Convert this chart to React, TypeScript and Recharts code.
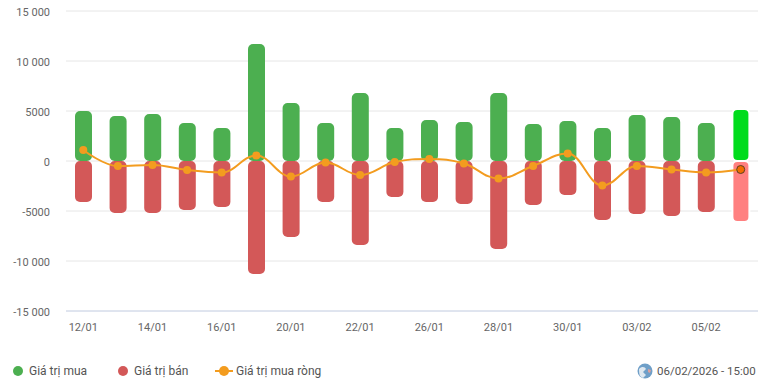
import React from 'react';
import { ComposedChart, Bar, Line, Cell, XAxis, YAxis, CartesianGrid } from 'recharts';

const dates = ['12/01', '13/01', '14/01', '15/01', '16/01', '19/01', '20/01', '21/01', '22/01', '23/01', '26/01', '27/01', '28/01', '29/01', '30/01', '02/02', '03/02', '04/02', '05/02', '06/02'];
const buyValues = [5000, 4500, 4700, 3800, 3300, 11700, 5800, 3800, 6800, 3300, 4100, 3900, 6800, 3700, 4000, 3300, 4600, 4400, 3800, 5200];
const sellValues = [-4100, -5200, -5200, -4900, -4600, -11300, -7600, -4100, -8400, -3600, -4100, -4300, -8800, -4400, -3400, -5900, -5300, -5500, -5100, -6100];
const netValues = [1100, -500, -400, -900, -1150, 550, -1550, -150, -1400, -100, 200, -250, -1750, -500, 750, -2450, -500, -850, -1150, -850];
const yTicks = [-15000, -10000, -5000, 0, 5000, 10000, 15000];

const data = dates.map((date, i) => ({ date, buy: buyValues[i], sell: sellValues[i], net: netValues[i] }));
const lastIndex = dates.length - 1;

const GREEN = '#4caf50';
const RED = '#d35858';
const ORANGE = '#f39c1f';

const formatY = (value: number) => {
  const abs = Math.abs(value);
  if (abs < 10000) return String(value);
  return `${value < 0 ? '-' : ''}${Math.floor(abs / 1000)} ${String(abs % 1000).padStart(3, '0')}`;
};

// same smoothing as a Highcharts spline, plugged in as a d3-style curve
const splineCurve = (context: any) => {
  let pts: [number, number][] = [];
  return {
    areaStart() {},
    areaEnd() {},
    lineStart() {
      pts = [];
    },
    point(x: number, y: number) {
      pts.push([+x, +y]);
    },
    lineEnd() {
      const smoothing = 1.5;
      const denom = smoothing + 1;
      const conts = pts.map(([x, y], i) => {
        if (i === 0 || i === pts.length - 1) return { lx: x, ly: y, rx: x, ry: y };
        const [px, py] = pts[i - 1];
        const [nx, ny] = pts[i + 1];
        const lx = (smoothing * x + px) / denom;
        let ly = (smoothing * y + py) / denom;
        const rx = (smoothing * x + nx) / denom;
        let ry = (smoothing * y + ny) / denom;
        const correction = ((ry - ly) * (rx - x)) / (rx - lx) + y - ry;
        ly += correction;
        ry += correction;
        if (ly > py && ly > y) {
          ly = Math.max(py, y);
          ry = 2 * y - ly;
        } else if (ly < py && ly < y) {
          ly = Math.min(py, y);
          ry = 2 * y - ly;
        }
        if (ry > ny && ry > y) {
          ry = Math.max(ny, y);
          ly = 2 * y - ry;
        } else if (ry < ny && ry < y) {
          ry = Math.min(ny, y);
          ly = 2 * y - ry;
        }
        return { lx, ly, rx, ry };
      });
      pts.forEach(([x, y], i) => {
        if (i === 0) context.moveTo(x, y);
        else context.bezierCurveTo(conts[i - 1].rx, conts[i - 1].ry, conts[i].lx, conts[i].ly, x, y);
      });
    },
  };
};

const NetDot = (props: any) => {
  const { cx, cy, index } = props;
  if (index === lastIndex) {
    return <circle key={index} cx={cx} cy={cy} r={4} fill="#f26c00" stroke="#5a4020" strokeWidth={1} />;
  }
  return <circle key={index} cx={cx} cy={cy} r={4} fill={ORANGE} />;
};

const legendText: React.CSSProperties = { position: 'absolute', top: 363, fontSize: 12, lineHeight: '16px', color: '#555', whiteSpace: 'nowrap' };
const legendDot = (left: number, color: string): React.CSSProperties => ({
  position: 'absolute', left, top: 366, width: 10, height: 10, borderRadius: '50%', backgroundColor: color,
});

export default function App() {
  return (
    <div style={{ position: 'absolute', left: 0, top: 0, width: 764, height: 382, overflow: 'hidden', background: '#fff', fontFamily: 'Roboto, sans-serif' }}>
      <ComposedChart
        width={764}
        height={345}
        data={data}
        stackOffset="sign"
        barCategoryGap={0}
        margin={{ top: 11, right: 6, bottom: 0, left: 0 }}
      >
        <CartesianGrid horizontal vertical={false} stroke="#e6e6e6" />
        <XAxis
          dataKey="date"
          interval={1}
          height={34}
          tickLine={false}
          axisLine={{ stroke: '#ccd6eb' }}
          tickMargin={6}
          tick={{ fontSize: 11, fill: '#666' }}
        />
        <YAxis
          width={66}
          domain={[-15000, 15000]}
          ticks={yTicks}
          tickFormatter={formatY}
          axisLine={false}
          tickLine={false}
          tickMargin={10}
          tick={{ fontSize: 11, fill: '#666', dy: 1 }}
        />
        <Bar dataKey="buy" stackId="value" fill={GREEN} barSize={17} radius={5} isAnimationActive={false}>
          {dates.map((d, i) => (
            <Cell
              key={d}
              fill={i === lastIndex ? '#00dc1c' : GREEN}
              stroke={i === lastIndex ? '#fff' : 'none'}
              strokeWidth={i === lastIndex ? 2 : 0}
            />
          ))}
        </Bar>
        <Bar dataKey="sell" stackId="value" fill={RED} barSize={17} radius={5} isAnimationActive={false}>
          {dates.map((d, i) => (
            <Cell
              key={d}
              fill={i === lastIndex ? '#ff8080' : RED}
              stroke={i === lastIndex ? '#fff' : 'none'}
              strokeWidth={i === lastIndex ? 2 : 0}
            />
          ))}
        </Bar>
        <Line
          type={splineCurve as any}
          dataKey="net"
          stroke={ORANGE}
          strokeWidth={2}
          dot={<NetDot />}
          activeDot={false}
          isAnimationActive={false}
        />
      </ComposedChart>

      <span style={legendDot(13, GREEN)} />
      <span style={{ ...legendText, left: 29 }}>Giá trị mua</span>
      <span style={legendDot(118, RED)} />
      <span style={{ ...legendText, left: 134 }}>Giá trị bán</span>
      <svg width={20} height={12} style={{ position: 'absolute', left: 214, top: 365 }}>
        <line x1={1} y1={6} x2={19} y2={6} stroke={ORANGE} strokeWidth={2} />
        <circle cx={10} cy={6} r={5} fill={ORANGE} />
      </svg>
      <span style={{ ...legendText, left: 236 }}>Giá trị mua ròng</span>

      <svg width={16} height={16} viewBox="0 0 16 16" style={{ position: 'absolute', left: 637, top: 363 }}>
        <circle cx={8} cy={8} r={7.5} fill="#6f9fc8" />
        <path d="M2 6c3-3 6-2 7 0l-3 3 3 3-3 3c-3-1-4-3-4-9z" fill="#dfe8f0" />
        <path d="M11 6l3 1-1 3-2-1z" fill="#d9a0a0" />
      </svg>
      <span style={{ ...legendText, left: 657, fontSize: 11.5 }}>06/02/2026 - 15:00</span>
    </div>
  );
}
